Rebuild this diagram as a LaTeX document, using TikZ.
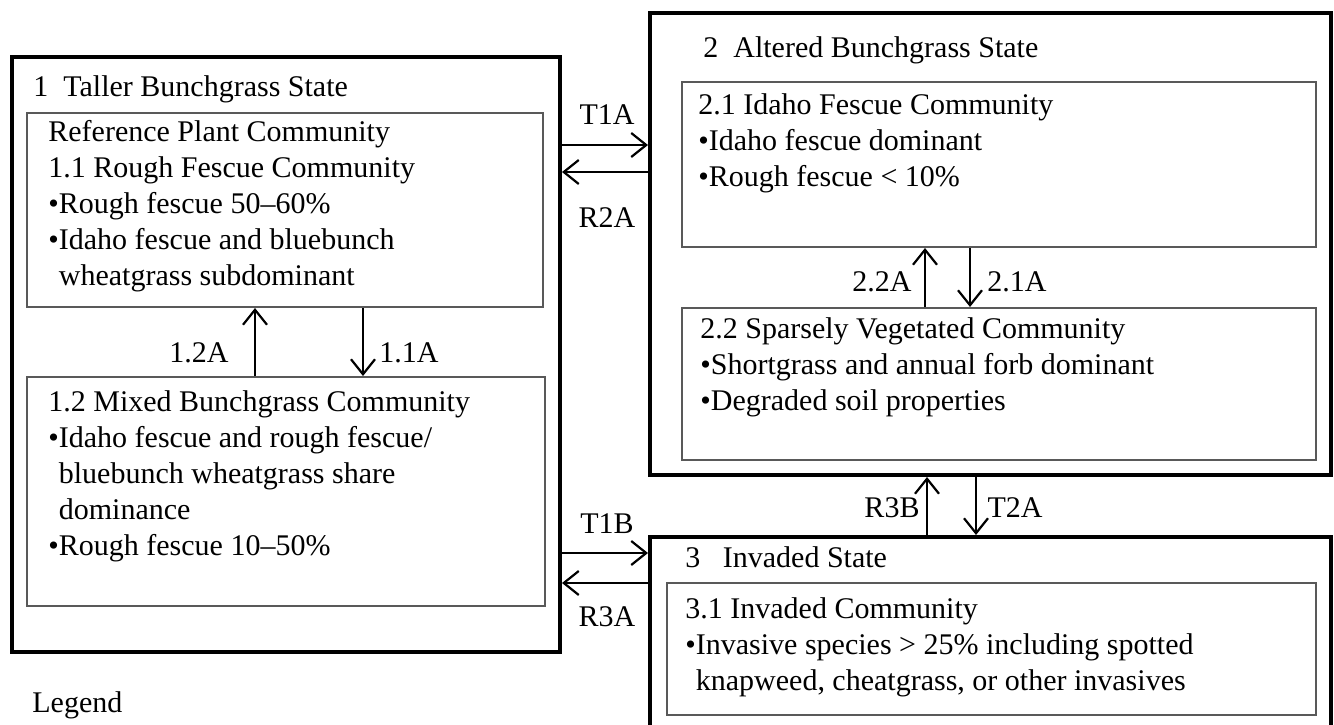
\documentclass[tikz,border=0pt]{standalone}
\usepackage{fontspec}
\setmainfont{Liberation Serif}
\usetikzlibrary{arrows.meta,fit}

\begin{document}
\begin{tikzpicture}[x=0.5pt,y=-0.5pt,
		statebox/.style={draw, line width=2pt, inner sep=0pt},
		commbox/.style={draw=black!65, line width=1pt, inner sep=0pt},
		txt/.style={anchor=base west, align=left, inner sep=0pt, font=\fontsize{15}{18}\selectfont},
		lbl/.style={inner sep=0pt, font=\fontsize{15}{18}\selectfont},
		arr/.style={line width=1.2pt, -{Straight Barb[length=7.5pt,width=12pt,line width=1.1pt]}}]
		\useasboundingbox (0,0) rectangle (1334,724);

		% states
		\node[statebox, fit={(12,57) (560,652)}] (s1) {};
		\node[statebox, fit={(650,13) (1331,475)}] (s2) {};
		\node[statebox, fit={(650,537) (1331,745)}] (s3) {};

		% communities
		\node[commbox, fit={(27,113) (543,307)}] (c11) {};
		\node[commbox, fit={(27,377) (545,606)}] (c12) {};
		\node[commbox, fit={(682,82) (1316,247)}] (c21) {};
		\node[commbox, fit={(682,308) (1316,460)}] (c22) {};
		\node[commbox, fit={(667,583) (1316,715)}] (c31) {};

		% texts (placed by the baseline of their last line)
		\node[txt] (t1) at (33,96) {1~~Taller Bunchgrass State};
		\node[txt] (t11) at (48,285) {Reference Plant Community\\
			1.1 Rough Fescue Community\\
			\textbullet Rough fescue 50–60\%\\
			\textbullet Idaho fescue and bluebunch\\
			\hphantom{\textbullet}wheatgrass subdominant};
		\node[txt] (t12) at (48,555) {1.2 Mixed Bunchgrass Community\\
			\textbullet Idaho fescue and rough fescue/\\
			\hphantom{\textbullet}bluebunch wheatgrass share\\
			\hphantom{\textbullet}dominance\\
			\textbullet Rough fescue 10–50\%};
		\node[txt] (t2) at (703,57) {2~~Altered Bunchgrass State};
		\node[txt] (t21) at (698,186) {2.1 Idaho Fescue Community\\
			\textbullet Idaho fescue dominant\\
			\textbullet Rough fescue < 10\%};
		\node[txt] (t22) at (700,410) {2.2 Sparsely Vegetated Community\\
			\textbullet Shortgrass and annual forb dominant\\
			\textbullet Degraded soil properties};
		\node[txt] (t3) at (685,567) {3~~~Invaded State};
		\node[txt] (t31) at (685,690) {3.1 Invaded Community\\
			\textbullet Invasive species > 25\% including spotted\\
			\hphantom{\textbullet}knapweed, cheatgrass, or other invasives};
		\node[txt] (leg) at (32,712) {Legend};

		% transitions
		\draw[arr] (s1.east |- 0,145) -- (s2.west |- 0,145);
		\draw[arr] (s2.west |- 0,172) -- (s1.east |- 0,172);
		\draw[arr] (s1.east |- 0,553) -- (s3.west |- 0,553);
		\draw[arr] (s3.west |- 0,583) -- (s1.east |- 0,583);
		\draw[arr] (c12.north -| 255,0) -- (c11.south -| 255,0);
		\draw[arr] (c11.south -| 363,0) -- (c12.north -| 363,0);
		\draw[arr] (c22.north -| 925,0) -- (c21.south -| 925,0);
		\draw[arr] (c21.south -| 970,0) -- (c22.north -| 970,0);
		\draw[arr] (s3.north -| 927,0) -- (s2.south -| 927,0);
		\draw[arr] (s2.south -| 976,0) -- (s3.north -| 976,0);

		% labels
		\node[lbl] (lt1a) at (607,115) {T1A};
		\node[lbl] (lr2a) at (607,218) {R2A};
		\node[lbl] (lt1b) at (607,524) {T1B};
		\node[lbl] (lr3a) at (607,617) {R3A};
		\node[lbl] (l12a) at (199,353) {1.2A};
		\node[lbl] (l11a) at (409,353) {1.1A};
		\node[lbl] (l22a) at (882,282) {2.2A};
		\node[lbl] (l21a) at (1017,282) {2.1A};
		\node[lbl] (lr3b) at (892,508) {R3B};
		\node[lbl] (lt2a) at (1015,508) {T2A};
\end{tikzpicture}
\end{document}
